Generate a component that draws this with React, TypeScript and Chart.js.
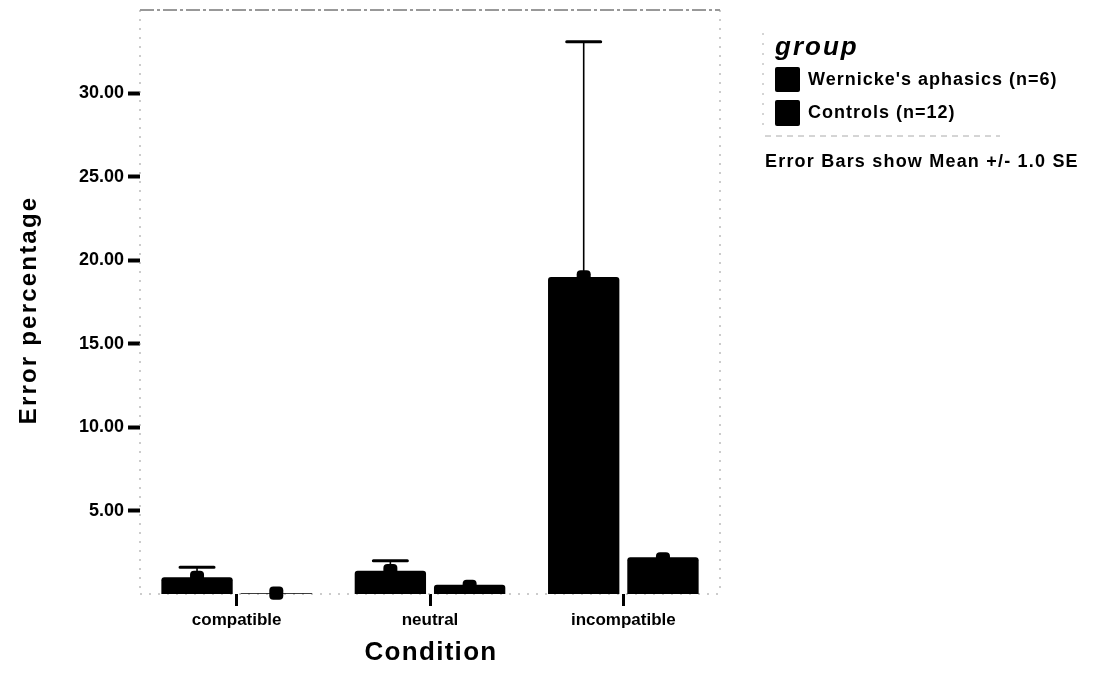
import { useEffect, useRef } from "react";
import { Chart, registerables } from "chart.js";

Chart.register(...registerables);

// Mean error percentage per condition, with standard errors
const conditions = ["compatible", "neutral", "incompatible"];
const wernickeMean = [1.0, 1.4, 19.0];
const wernickeSE = [0.6, 0.6, 14.1];
const controlsMean = [0.05, 0.55, 2.2];
const controlsSE = [0.4, 0.3, 0.3];
const groupNames = ["Wernicke's aphasics (n=6)", "Controls (n=12)"];
const yTickValues = [5, 10, 15, 20, 25, 30];
const yMax = 35;

const FONT = "'Liberation Sans', Arial, Helvetica, sans-serif";
const seByDataset = [wernickeSE, controlsSE];

// Error bars: a short knob around the mean, then a thin whisker with caps
const errorBarPlugin = {
  id: "errorBars",
  afterDatasetsDraw(chart: any) {
    const { ctx } = chart;
    const y = chart.scales.y;
    ctx.save();
    ctx.fillStyle = "#000";
    ctx.strokeStyle = "#000";
    chart.data.datasets.forEach((ds: any, di: number) => {
      const meta = chart.getDatasetMeta(di);
      meta.data.forEach((bar: any, i: number) => {
        const mean = ds.data[i] as number;
        const se = seByDataset[di][i];
        const x = bar.x;
        const knob = Math.min(se, 0.4);
        const kTop = y.getPixelForValue(mean + knob);
        const kBot = y.getPixelForValue(mean - knob);
        ctx.beginPath();
        ctx.roundRect(x - 7, kTop, 14, kBot - kTop, 4);
        ctx.fill();
        if (se > knob) {
          const hi = y.getPixelForValue(mean + se);
          const lo = y.getPixelForValue(mean - se);
          ctx.lineWidth = 1.6;
          ctx.beginPath();
          ctx.moveTo(x, lo);
          ctx.lineTo(x, hi);
          ctx.stroke();
          ctx.lineWidth = 3;
          ctx.lineCap = "round";
          ctx.beginPath();
          ctx.moveTo(x - 17, hi);
          ctx.lineTo(x + 17, hi);
          ctx.moveTo(x - 17, lo);
          ctx.lineTo(x + 17, lo);
          ctx.stroke();
          ctx.lineCap = "butt";
        }
      });
    });
    ctx.restore();
  },
};

// Plot frame, axis titles, group legend and footnote
const decorPlugin = {
  id: "decor",
  beforeDatasetsDraw(chart: any) {
    const { ctx, chartArea: a } = chart;
    ctx.save();
    ctx.lineWidth = 1;
    ctx.strokeStyle = "#333";
    ctx.setLineDash([14, 3, 3, 3]);
    ctx.beginPath();
    ctx.moveTo(a.left, a.top);
    ctx.lineTo(a.right, a.top);
    ctx.stroke();
    ctx.strokeStyle = "#999";
    ctx.setLineDash([2, 7]);
    ctx.beginPath();
    ctx.moveTo(a.left, a.top);
    ctx.lineTo(a.left, a.bottom);
    ctx.moveTo(a.right, a.top);
    ctx.lineTo(a.right, a.bottom);
    ctx.moveTo(a.left, a.bottom);
    ctx.lineTo(a.right, a.bottom);
    ctx.stroke();
    ctx.restore();
  },
  afterDraw(chart: any) {
    const { ctx } = chart;
    ctx.save();
    ctx.fillStyle = "#000";

    // y-axis title
    ctx.save();
    ctx.translate(36, 310);
    ctx.rotate(-Math.PI / 2);
    ctx.font = `bold 24px ${FONT}`;
    ctx.letterSpacing = "2.2px";
    ctx.textAlign = "center";
    ctx.textBaseline = "alphabetic";
    ctx.fillText("Error percentage", 0, 0);
    ctx.restore();

    // x-axis title
    ctx.font = `bold 26px ${FONT}`;
    ctx.letterSpacing = "1.3px";
    ctx.textAlign = "center";
    ctx.textBaseline = "alphabetic";
    ctx.fillText("Condition", 431, 660);

    // legend
    ctx.textAlign = "left";
    ctx.font = `italic bold 26px ${FONT}`;
    ctx.letterSpacing = "2px";
    ctx.fillText("group", 775, 55);

    ctx.font = `bold 18px ${FONT}`;
    ctx.letterSpacing = "1px";
    const rows = [
      { top: 67, h: 25, base: 85 },
      { top: 100, h: 26, base: 118 },
    ];
    chart.data.datasets.forEach((ds: any, di: number) => {
      const r = rows[di];
      ctx.fillStyle = ds.backgroundColor;
      ctx.beginPath();
      ctx.roundRect(775, r.top, 25, r.h, 2);
      ctx.fill();
      ctx.fillStyle = "#000";
      ctx.fillText(ds.label, 808, r.base);
    });

    ctx.strokeStyle = "#aaa";
    ctx.lineWidth = 1;
    ctx.setLineDash([6, 5]);
    ctx.beginPath();
    ctx.moveTo(765, 136);
    ctx.lineTo(1000, 136);
    ctx.stroke();
    ctx.setLineDash([2, 8]);
    ctx.beginPath();
    ctx.moveTo(763, 33);
    ctx.lineTo(763, 130);
    ctx.stroke();
    ctx.setLineDash([]);

    ctx.font = `bold 18px ${FONT}`;
    ctx.letterSpacing = "1.2px";
    ctx.fillText("Error Bars show Mean +/- 1.0 SE", 765, 167);
    ctx.letterSpacing = "0px";
    ctx.restore();
  },
};

export default function App() {
  const canvasRef = useRef<HTMLCanvasElement | null>(null);

  useEffect(() => {
    if (!canvasRef.current) return;
    const chart = new Chart(canvasRef.current, {
      type: "bar",
      data: {
        labels: conditions,
        datasets: [
          {
            label: groupNames[0],
            data: wernickeMean,
            backgroundColor: "#000",
            borderRadius: 3,
            categoryPercentage: 0.82,
            barPercentage: 0.9,
          },
          {
            label: groupNames[1],
            data: controlsMean,
            backgroundColor: "#000",
            borderRadius: 3,
            categoryPercentage: 0.82,
            barPercentage: 0.9,
          },
        ],
      },
      options: {
        animation: false,
        responsive: false,
        devicePixelRatio: 1,
        layout: { padding: { top: 10, right: 373, left: 0, bottom: 0 } },
        plugins: {
          legend: { display: false },
          tooltip: { enabled: false },
        },
        scales: {
          x: {
            afterFit: (s: any) => {
              s.height = 92;
              s.paddingLeft = 0;
              s.paddingRight = 0;
            },
            grid: {
              offset: false,
              drawOnChartArea: false,
              drawTicks: true,
              tickLength: 12,
              tickWidth: 3,
              tickColor: "#000",
            },
            border: { display: false },
            ticks: {
              color: "#000",
              padding: 4,
              font: { family: FONT, size: 17, weight: "bold" },
            },
          },
          y: {
            min: 0,
            max: yMax,
            afterFit: (s: any) => {
              s.width = 140;
              s.paddingTop = 0;
              s.paddingBottom = 0;
            },
            afterBuildTicks: (s: any) => {
              s.ticks = yTickValues.map((v) => ({ value: v }));
            },
            grid: {
              drawOnChartArea: false,
              drawTicks: true,
              tickLength: 12,
              tickWidth: 4,
              tickColor: "#000",
            },
            border: { display: false },
            ticks: {
              color: "#000",
              padding: 4,
              font: { family: FONT, size: 18, weight: "bold" },
              callback: (v: any) => Number(v).toFixed(2),
            },
          },
        },
      },
      plugins: [decorPlugin, errorBarPlugin],
    });
    return () => chart.destroy();
  }, []);

  return (
    <div style={{ position: "fixed", left: 0, top: 0, width: 1093, height: 686, background: "#fff" }}>
      <canvas ref={canvasRef} width={1093} height={686} />
    </div>
  );
}
